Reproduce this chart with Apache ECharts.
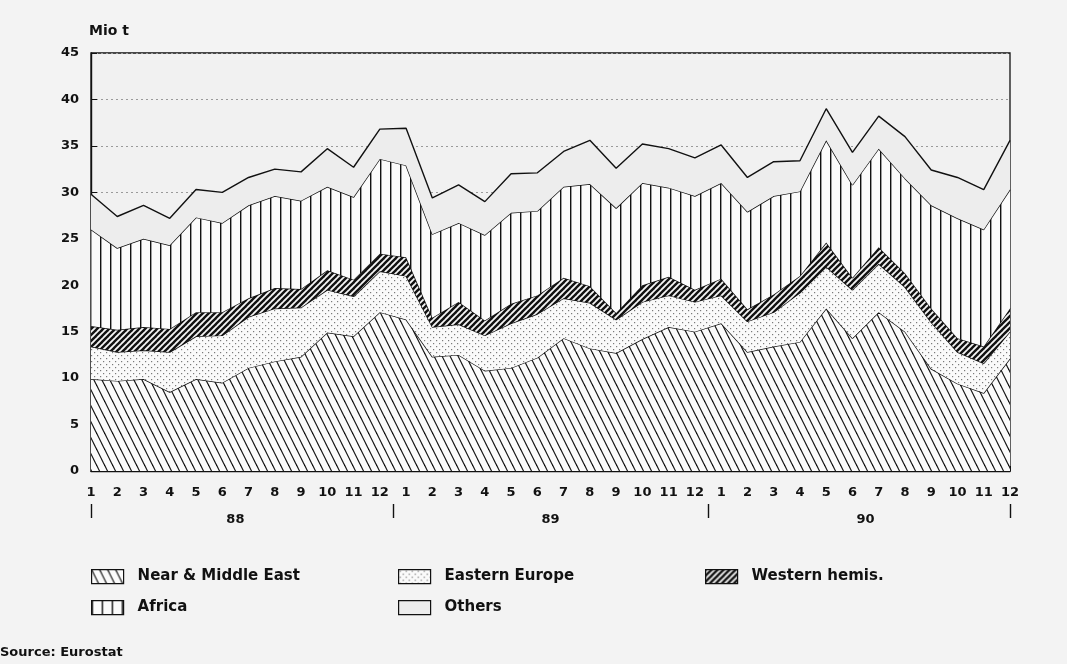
<!DOCTYPE html>
<html><head><meta charset="utf-8">
<script src="https://cdn.jsdelivr.net/npm/echarts@6/dist/echarts.min.js"></script>
<style>html,body{margin:0;padding:0;background:#f3f3f3}#c{width:1067px;height:664px}</style>
</head><body><div id="c"></div>
<script>
// ---- data (Mio t), monthly 1988-1990 ----
const monthLabels = ['1','2','3','4','5','6','7','8','9','10','11','12',
                     '1','2','3','4','5','6','7','8','9','10','11','12',
                     '1','2','3','4','5','6','7','8','9','10','11','12'];
const yearLabels = ['88','89','90'];
const yAxisTicks = [0,5,10,15,20,25,30,35,40,45];

const nearMiddleEast = [9.9,9.7,9.9,8.5,9.9,9.5,11.1,11.8,12.3,14.9,14.5,17.1,
                        16.3,12.3,12.5,10.8,11.1,12.2,14.3,13.2,12.7,14.2,15.5,15.0,
                        15.9,12.8,13.4,13.9,17.5,14.3,17.1,15.0,11.0,9.4,8.4,12.1];
const easternEurope  = [3.5,3.1,3.1,4.3,4.6,5.1,5.5,5.7,5.3,4.6,4.3,4.4,
                        4.7,3.2,3.3,3.8,4.8,4.7,4.3,4.9,3.6,4.0,3.4,3.2,
                        3.0,3.3,3.7,5.3,4.5,5.2,5.2,4.8,5.0,3.4,3.2,2.9];
const westernHemis   = [2.2,2.4,2.5,2.5,2.6,2.5,2.0,2.2,2.0,2.1,1.8,1.9,
                        2.0,1.0,2.4,1.6,2.1,2.0,2.2,1.8,0.7,1.8,2.0,1.3,
                        1.8,1.3,1.9,1.8,2.6,1.3,1.8,1.5,1.5,1.5,1.8,2.5];
const africa         = [10.4,8.8,9.5,9.0,10.2,9.6,10.0,9.9,9.5,9.0,8.9,10.2,
                        9.9,9.0,8.5,9.2,9.8,9.1,9.8,11.0,11.3,11.0,9.6,10.1,
                        10.3,10.5,10.6,9.1,11.0,10.0,10.6,10.2,11.1,12.9,12.6,12.8];
const others         = [3.8,3.4,3.6,2.9,3.0,3.3,3.0,2.9,3.1,4.1,3.2,3.2,
                        4.0,3.9,4.1,3.6,4.2,4.1,3.8,4.7,4.3,4.2,4.2,4.1,
                        4.1,3.7,3.7,3.3,3.4,3.5,3.5,4.5,3.8,4.4,4.3,5.3];
const seriesNames = ['Near & Middle East','Eastern Europe','Western hemis.','Africa','Others'];

// ---- patterns ----
function tile(w, h, bg, draw) {
  const c = document.createElement('canvas');
  c.width = w; c.height = h;
  const g = c.getContext('2d');
  if (bg) { g.fillStyle = bg; g.fillRect(0, 0, w, h); }
  draw(g, w, h);
  return c;
}
const patNME = tile(8, 16, '#fbfbfb', (g, w, h) => {
  g.strokeStyle = '#111'; g.lineWidth = 1.2;
  for (let k = -1; k <= 1; k++) { g.beginPath(); g.moveTo(k * w - w, -h); g.lineTo(k * w + 2 * w, 2 * h); g.stroke(); }
});
const patEE = tile(6, 6, '#fafafa', (g) => {
  g.fillStyle = '#7a7a7a';
  g.fillRect(1, 1, 1.2, 1.2); g.fillRect(4, 4, 1.2, 1.2);
});
const patWH = tile(6, 6, '#f5f5f5', (g, w, h) => {
  g.strokeStyle = '#111'; g.lineWidth = 2.4;
  for (let k = -1; k <= 1; k++) { g.beginPath(); g.moveTo(k * w - w, 2 * h); g.lineTo(k * w + 2 * w, -h); g.stroke(); }
});
const patAF = tile(10, 4, '#fbfbfb', (g) => {
  g.fillStyle = '#111'; g.fillRect(0, 0, 1.4, 4);
});
const patOT = tile(4, 4, '#ededed', () => {});
const patterns = [patNME, patEE, patWH, patAF, patOT];
const seriesData = [nearMiddleEast, easternEurope, westernHemis, africa, others];

const FONT = 'DejaVu Sans';
const chart = echarts.init(document.getElementById('c'), null, {renderer: 'canvas'});

const series = seriesNames.map((name, i) => ({
  name, type: 'line', stack: 'total', data: seriesData[i],
  symbol: 'none', smooth: false, z: 2 + i,
  lineStyle: {color: '#111', width: 1.4},
  itemStyle: {color: '#111'},
  areaStyle: {color: {image: patterns[i], repeat: 'repeat'}, opacity: 1},
  emphasis: {disabled: true}
}));

const legendPos = [[91, 569], [398, 569], [705, 569], [91, 600], [398, 600]];
const legends = seriesNames.map((name, i) => ({
  left: legendPos[i][0], top: legendPos[i][1], padding: 0,
  itemWidth: 32, itemHeight: 14, itemGap: 0, selectedMode: false,
  textStyle: {fontFamily: FONT, fontWeight: 'bold', fontSize: 15, color: '#111', padding: [0, 0, 0, 9]},
  data: [{name, icon: 'rect', itemStyle: {color: {image: patterns[i], repeat: 'repeat'}, borderColor: '#111', borderWidth: 1.2}}]
}));

chart.setOption({
  backgroundColor: '#f3f3f3',
  animation: false,
  title: [
    {text: 'Mio t', left: 89, top: 24, padding: 0, textStyle: {fontFamily: FONT, fontWeight: 'bold', fontSize: 14, color: '#111'}},
    {text: 'Source: Eurostat', left: 0, top: 646, padding: 0, textStyle: {fontFamily: FONT, fontWeight: 'bold', fontSize: 13, color: '#111'}}
  ],
  legend: legends,
  grid: {left: 91, right: 57, top: 53, bottom: 193, show: true, borderColor: '#111', borderWidth: 1.3, backgroundColor: '#f1f1f1'},
  xAxis: [
    {type: 'category', data: monthLabels, boundaryGap: false,
     axisLine: {lineStyle: {color: '#111', width: 1.4}},
     axisTick: {inside: true, length: 5, interval: 0, lineStyle: {color: '#111'}},
     axisLabel: {interval: 0, margin: 15, fontFamily: FONT, fontWeight: 'bold', fontSize: 13, color: '#111'},
     splitLine: {show: false}},
    {type: 'value', min: 0, max: 35, position: 'bottom', offset: 33,
     axisLine: {show: false},
     axisTick: {show: true, customValues: [0, 11.5, 23.5, 35], length: 14, lineStyle: {color: '#111', width: 1.4}},
     axisLabel: {show: true, customValues: [5.5, 17.5, 29.5], margin: 9,
       formatter: (v) => yearLabels[Math.round((v - 5.5) / 12)],
       fontFamily: FONT, fontWeight: 'bold', fontSize: 13, color: '#111'},
     splitLine: {show: false}}
  ],
  yAxis: {type: 'value', min: yAxisTicks[0], max: yAxisTicks[yAxisTicks.length - 1], interval: 5,
    axisLine: {show: true, lineStyle: {color: '#111', width: 1.4}},
    axisTick: {show: true, inside: true, length: 6, lineStyle: {color: '#111'}},
    axisLabel: {margin: 12, fontFamily: FONT, fontWeight: 'bold', fontSize: 13, color: '#111'},
    splitLine: {show: true, lineStyle: {color: '#9a9a9a', type: [2, 3], width: 1}}},
  series
});
</script></body></html>
